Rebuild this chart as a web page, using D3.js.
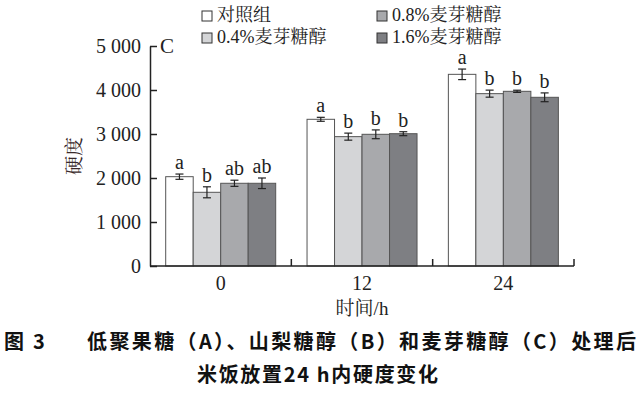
<!DOCTYPE html>
<html>
<head>
<meta charset="utf-8">
<script src="https://cdn.jsdelivr.net/npm/d3@7"></script>
<style>
  body { margin: 0; background: #fff; }
  svg text { font-family: "Liberation Serif", "Noto Serif CJK SC", "Noto Sans CJK SC", serif; }
  svg text.cap { font-family: "Noto Sans CJK SC", sans-serif; font-weight: bold; }
</style>
</head>
<body>
<div id="chart"></div>
<script>
// 数据
const times = ["0", "12", "24"];
const groups = ["对照组", "0.4%麦芽糖醇", "0.8%麦芽糖醇", "1.6%麦芽糖醇"];
const means = [
  [2030, 1675, 1880, 1880],
  [3334, 2940, 2993, 3007],
  [4356, 3917, 3970, 3834]
];
const errs = [
  [60, 125, 70, 120],
  [45, 80, 100, 45],
  [120, 80, 25, 100]
];
const letters = [
  ["a", "b", "ab", "ab"],
  ["a", "b", "b", "b"],
  ["a", "b", "b", "b"]
];
const yTicks = [0, 1000, 2000, 3000, 4000, 5000];
const colors = ["#ffffff", "#d4d5d7", "#a8a9ac", "#7e7f83"];

const W = 640, H = 394;
const svg = d3.select("#chart").append("svg").attr("width", W).attr("height", H);

const x0 = d3.scaleBand().domain(times).range([150, 574]);
const x1 = d3.scaleBand().domain(groups).range([15.7, 125.7]);
const y = d3.scaleLinear().domain([0, 5000]).range([266, 46]);

const fmt = d => d === 0 ? "0" : d3.format(",")(d).replace(",", " ");

// 柱子
const g = svg.append("g");
times.forEach((t, i) => {
  groups.forEach((s, j) => {
    const bx = x0(t) + x1(s);
    const v = means[i][j], e = errs[i][j];
    g.append("rect")
      .attr("x", bx).attr("y", y(v))
      .attr("width", x1.bandwidth()).attr("height", y(0) - y(v))
      .attr("fill", colors[j]).attr("stroke", "#555").attr("stroke-width", 1);
    const cx = bx + x1.bandwidth() / 2;
    g.append("line").attr("x1", cx).attr("x2", cx).attr("y1", y(v + e)).attr("y2", y(v - e))
      .attr("stroke", "#222").attr("stroke-width", 1.2);
    [v + e, v - e].forEach(yy => {
      g.append("line").attr("x1", cx - 4).attr("x2", cx + 4).attr("y1", y(yy)).attr("y2", y(yy))
        .attr("stroke", "#222").attr("stroke-width", 1.2);
    });
    g.append("text").attr("x", cx).attr("y", y(v + e) - 5)
      .attr("text-anchor", "middle").attr("font-size", 20).attr("fill", "#222")
      .text(letters[i][j]);
  });
});

// 坐标轴
const yAxis = d3.axisLeft(y).tickValues(yTicks).tickSizeInner(-7).tickSizeOuter(0).tickFormat(fmt).tickPadding(9);
const ya = svg.append("g").attr("transform", "translate(150,0)").call(yAxis);
ya.select(".domain").attr("stroke", "#222").attr("stroke-width", 1.5);
ya.selectAll(".tick line").attr("stroke", "#222").attr("stroke-width", 1.5);
ya.selectAll(".tick text").attr("font-size", 20).attr("fill", "#222");

const xa = svg.append("g").attr("transform", "translate(0,266)");
xa.append("line").attr("x1", 150).attr("x2", 574).attr("y1", 0).attr("y2", 0)
  .attr("stroke", "#222").attr("stroke-width", 1.5);
times.forEach(t => {
  const xe = x0(t) + x0.bandwidth();
  xa.append("line").attr("x1", xe).attr("x2", xe).attr("y1", 0).attr("y2", -7)
    .attr("stroke", "#222").attr("stroke-width", 1.5);
  xa.append("text").attr("x", x0(t) + x0.bandwidth() / 2).attr("y", 24)
    .attr("text-anchor", "middle").attr("font-size", 20).attr("fill", "#222").text(t);
});

svg.append("text").attr("x", 362).attr("y", 315).attr("text-anchor", "middle")
  .attr("font-size", 19).attr("fill", "#222").text("时间/h");
svg.append("text").attr("transform", "translate(81,156) rotate(-90)").attr("text-anchor", "middle")
  .attr("font-size", 19).attr("fill", "#3a2a2a").text("硬度");
svg.append("text").attr("x", 160).attr("y", 53).attr("font-size", 21).attr("fill", "#222").text("C");

// 图例
const legPos = [[202, 11], [202, 33], [377, 11], [377, 33]];
groups.forEach((s, j) => {
  const [lx, ly] = legPos[j];
  svg.append("rect").attr("x", lx).attr("y", ly).attr("width", 10).attr("height", 10)
    .attr("fill", colors[j]).attr("stroke", "#333").attr("stroke-width", 1);
  svg.append("text").attr("x", lx + 15).attr("y", ly + 10).attr("font-size", 18)
    .attr("fill", "#222").text(s);
});

// 图题
svg.append("text").attr("class", "cap").attr("x", 4).attr("y", 349).attr("font-size", 20)
  .attr("fill", "#111").attr("xml:space", "preserve").text("图  3");
svg.append("text").attr("class", "cap").attr("x", 87).attr("y", 349).attr("font-size", 20)
  .attr("fill", "#111").attr("textLength", 549).attr("lengthAdjust", "spacing")
  .text("低聚果糖（A）、山梨糖醇（B）和麦芽糖醇（C）处理后");
svg.append("text").attr("class", "cap").attr("x", 197).attr("y", 382).attr("font-size", 20)
  .attr("fill", "#111").attr("textLength", 241).attr("lengthAdjust", "spacing")
  .text("米饭放置24 h内硬度变化");
</script>
</body>
</html>
